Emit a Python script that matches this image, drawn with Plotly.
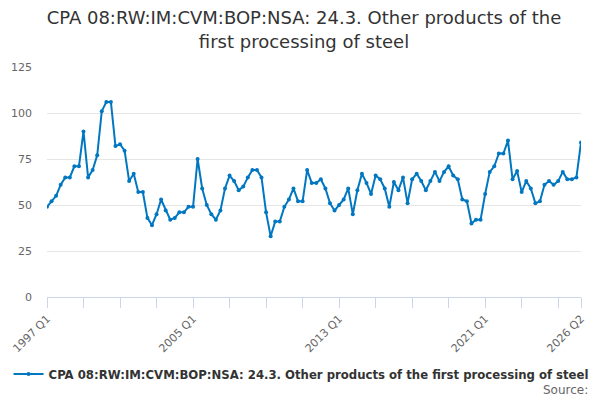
import plotly.graph_objects as go

# quarterly periods 1997 Q1 .. 2026 Q2
quarters = [f"{y} Q{q}" for y in range(1997, 2027) for q in range(1, 5)][:118]

values = [
    49, 52, 55, 61, 65, 65, 71, 71, 90, 65, 69, 77, 101, 106, 106, 82, 83, 79.5,
    63, 67, 57, 57, 43, 39, 45, 53, 47, 42, 43, 46, 46, 49, 49, 75, 59, 50, 45,
    42, 47, 59, 66, 63, 58, 60, 65, 69, 69, 65, 46, 33, 41, 41, 49, 53, 59, 52,
    52, 69, 62, 62, 64, 59, 51, 47, 50, 53, 59, 45, 58, 67, 62, 56, 66, 64, 59,
    49, 62.5, 58, 65, 51, 64, 67, 63, 58, 63, 68, 63, 68, 71, 66, 64, 53, 52,
    40, 42, 42, 56, 68, 71, 78, 78, 85, 64, 68.5, 57, 63, 59, 51, 52, 61, 63,
    61, 63, 68, 64, 64, 65, 84,
]

series_name = "CPA 08:RW:IM:CVM:BOP:NSA: 24.3. Other products of the first processing of steel"
labelled = ["1997 Q1", "2005 Q1", "2013 Q1", "2021 Q1", "2026 Q2"]

tick_vals = quarters[::8] + [quarters[-1]]
tick_text = [q if q in labelled else "" for q in tick_vals]

fig = go.Figure()
fig.add_trace(go.Scatter(
    x=quarters, y=values, name=series_name,
    mode="lines+markers",
    line=dict(color="#0077c0", width=2),
    marker=dict(color="#0077c0", size=4),
))

# page has an 8px body margin, so the figure is a bit smaller than the window
fig.update_layout(
    width=592, height=392,
    paper_bgcolor="white", plot_bgcolor="white",
    font=dict(family="DejaVu Sans", color="#333333"),
    title=dict(
        text="CPA 08:RW:IM:CVM:BOP:NSA: 24.3. Other products of the<br>first processing of steel",
        x=0.5, xanchor="center", y=0.958, yanchor="top",
        font=dict(size=18, color="#333333"),
    ),
    margin=dict(l=39, r=19, t=59, b=103, autoexpand=False),
    showlegend=True,
    legend=dict(
        orientation="h", x=-0.072, xanchor="left", y=-0.335, yanchor="middle",
        font=dict(size=11.7, color="#333333", weight="bold"),
        itemwidth=30,
    ),
    annotations=[dict(
        text="Source:", xref="paper", yref="paper", x=1.016, y=-0.405,
        xanchor="right", yanchor="middle", showarrow=False,
        font=dict(size=12, color="#666666"),
    )],
)

fig.update_xaxes(
    type="category", range=[0, 117], automargin=False,
    tickmode="array", tickvals=tick_vals, ticktext=tick_text,
    tickangle=-45, ticks="outside", ticklen=10, tickcolor="#ccd6eb",
    showline=True, linecolor="#ccd6eb", linewidth=1,
    showgrid=False, tickfont=dict(size=11, color="#666666"),
)
fig.update_yaxes(
    range=[0, 125], tickvals=[0, 25, 50, 75, 100, 125], automargin=False,
    showgrid=True, gridcolor="#e6e6e6", zeroline=False,
    tickfont=dict(size=11, color="#666666"), ticklabelstandoff=14,
)

fig.write_html("out.html")
